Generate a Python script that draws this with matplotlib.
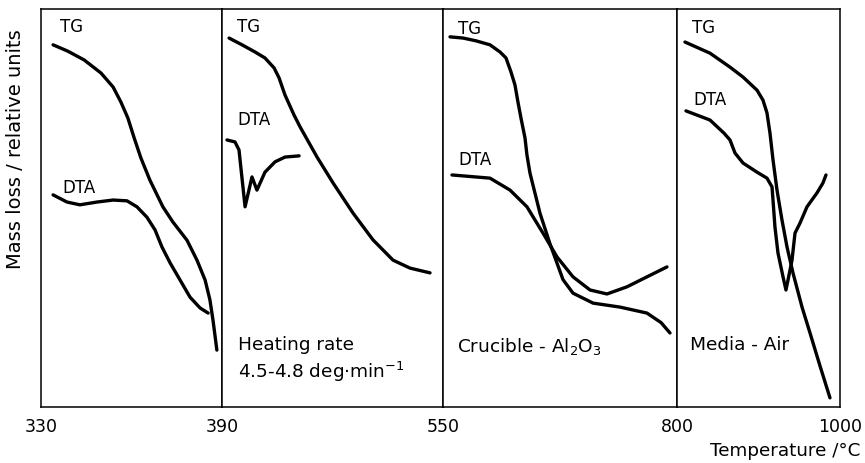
import matplotlib
matplotlib.use("Agg")
import matplotlib.pyplot as plt

# ---- data (temperature in degC, signal in relative units 0-100) ----
ranges = [(330, 390), (390, 550), (550, 800), (800, 1000)]
tick_labels = ["330", "390", "550", "800", "1000"]

tg1_t = [334.0, 338.9, 344.3, 349.9, 353.9, 356.5, 358.8, 360.8, 363.1, 366.1, 370.4, 373.7, 378.4, 381.7, 384.4, 386.0, 387.0, 388.3]
tg1_y = [91.0, 89.4, 87.2, 83.9, 80.4, 76.6, 72.6, 67.8, 62.6, 57.0, 50.3, 46.5, 41.9, 36.9, 31.9, 26.9, 21.9, 14.3]
dta1_t = [334.0, 338.6, 342.9, 348.6, 353.9, 358.5, 361.8, 365.1, 367.8, 370.1, 372.8, 376.1, 379.4, 382.7, 385.4]
dta1_y = [53.3, 51.5, 50.8, 51.5, 52.0, 51.8, 50.3, 47.7, 44.5, 40.2, 36.2, 31.9, 27.6, 24.9, 23.6]

tg2_t = [395.1, 404.5, 413.9, 421.1, 427.7, 431.3, 435.6, 442.1, 446.5, 458.8, 470.4, 484.9, 499.3, 513.8, 526.1, 540.6]
tg2_y = [92.7, 91.0, 89.2, 87.7, 85.2, 82.7, 78.4, 73.4, 70.4, 62.8, 56.3, 48.7, 42.0, 36.9, 34.9, 33.7]
dta2_t = [393.6, 399.4, 402.3, 406.7, 411.7, 415.3, 421.1, 428.4, 435.6, 445.8]
dta2_y = [67.1, 66.6, 64.6, 50.3, 57.8, 54.5, 59.0, 61.6, 62.8, 63.1]

tg3_t = [557.5, 571.4, 585.3, 600.2, 610.9, 617.3, 622.6, 626.9, 630.1, 633.3, 637.6, 639.7, 642.9, 653.6, 664.3, 678.2, 688.9, 710.3, 739.1, 767.9, 783.0, 792.5]
tg3_y = [93.0, 92.7, 92.0, 91.0, 89.2, 87.7, 84.2, 80.9, 76.6, 72.6, 67.6, 63.3, 58.8, 48.7, 41.0, 32.0, 28.6, 26.1, 25.1, 23.6, 21.2, 18.6]
dta3_t = [559.6, 600.2, 621.6, 639.7, 656.8, 671.8, 688.9, 707.1, 725.2, 746.6, 767.9, 789.3]
dta3_y = [58.3, 57.5, 54.5, 50.3, 43.7, 37.7, 32.7, 29.4, 28.4, 30.2, 32.7, 35.2]

tg4_t = [809.8, 840.5, 865.0, 881.0, 898.2, 905.5, 910.4, 914.1, 917.8, 922.7, 928.8, 935.0, 942.3, 953.4, 963.2, 975.5, 987.7]
tg4_y = [91.7, 88.9, 85.4, 82.9, 79.6, 77.1, 73.9, 68.8, 62.1, 54.5, 47.0, 40.2, 33.7, 25.1, 18.6, 10.3, 2.3]
dta4_t = [811.0, 840.5, 857.7, 865.0, 871.2, 881.0, 898.2, 910.4, 916.6, 917.8, 920.2, 923.9, 930.1, 933.7, 936.2, 941.1, 944.8, 950.9, 959.5, 971.8, 979.1, 982.8]
dta4_y = [74.4, 72.1, 68.8, 67.1, 63.8, 61.3, 59.0, 57.5, 55.3, 52.0, 45.2, 38.7, 32.7, 29.4, 31.9, 36.9, 43.7, 46.2, 50.3, 53.8, 56.3, 58.3]

tg = [(tg1_t, tg1_y), (tg2_t, tg2_y), (tg3_t, tg3_y), (tg4_t, tg4_y)]
dta = [(dta1_t, dta1_y), (dta2_t, dta2_y), (dta3_t, dta3_y), (dta4_t, dta4_y)]
notes = [None, "Heating rate\n4.5-4.8 deg$\\cdot$min$^{-1}$", "Crucible - Al$_2$O$_3$", "Media - Air"]

# ---- layout ----
W, H = 865, 463
fig = plt.figure(figsize=(W / 100, H / 100), dpi=100)
plt.rcParams['font.family'] = ['DejaVu Sans']
plt.rcParams['mathtext.default'] = 'regular'

def fx(x):
    return x / W

def fy(y):
    return 1 - y / H

left, right, top, bottom = 41, 840, 9, 407
widths = [181, 221, 234, 163]
gs = fig.add_gridspec(1, 4, left=fx(left), right=fx(right), top=fy(top), bottom=fy(bottom),
                      width_ratios=widths, wspace=0)

# label positions (pixels)
tg_lab = [(60, 27), (237, 27), (458, 29), (692, 28)]
dta_lab = [(62, 188), (237, 120), (458, 160), (693, 100)]
note_lab = [None, (238, 336), (457, 336), (690, 336)]

fs = 12
for i, ax in enumerate([fig.add_subplot(gs[0, k]) for k in range(4)]):
    lo, hi = ranges[i]
    ax.plot(*tg[i], color='black', lw=2.4, solid_joinstyle='round', solid_capstyle='round')
    ax.plot(*dta[i], color='black', lw=2.4, solid_joinstyle='round', solid_capstyle='round')
    ax.set_xlim(lo, hi)
    ax.set_ylim(0, 100)
    ax.set_yticks([])
    if i < 3:
        ax.set_xticks([lo])
        ax.set_xticklabels([tick_labels[i]])
    else:
        ax.set_xticks([lo, hi])
        ax.set_xticklabels([tick_labels[3], tick_labels[4]])
    ax.tick_params(axis='x', length=0, pad=8, labelsize=12.5)
    for s in ax.spines.values():
        s.set_linewidth(1.1)
    fig.text(fx(tg_lab[i][0]), fy(tg_lab[i][1]), "TG", fontsize=fs, va='center', ha='left')
    fig.text(fx(dta_lab[i][0]), fy(dta_lab[i][1]), "DTA", fontsize=fs, va='center', ha='left')
    if notes[i]:
        fig.text(fx(note_lab[i][0]), fy(note_lab[i][1]), notes[i], fontsize=13.3,
                 va='top', ha='left', linespacing=1.3)

fig.text(fx(16), fy(149), "Mass loss / relative units", rotation=90, fontsize=14,
         ha='center', va='center')
fig.text(fx(860), fy(460), "Temperature /°C", fontsize=13.2, ha='right', va='bottom')

fig.savefig("out.png", dpi=100, facecolor='white')
